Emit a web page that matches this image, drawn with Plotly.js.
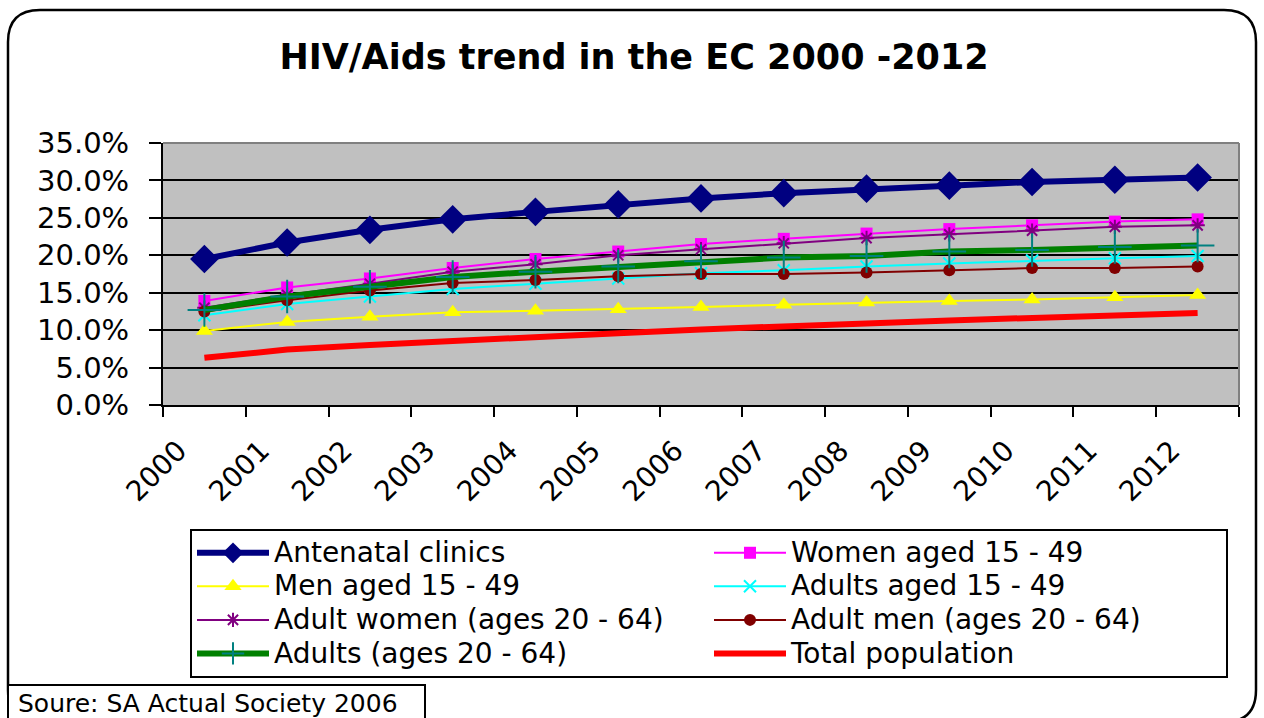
<!DOCTYPE html>
<html>
<head>
<meta charset="utf-8">
<script src="https://cdn.plot.ly/plotly-3.0.1.min.js"></script>
<style>html,body{margin:0;padding:0;background:#fff;}#chart{width:1264px;height:718px;}</style>
</head>
<body>
<div id="chart"></div>
<script>
const years = ["2000","2001","2002","2003","2004","2005","2006","2007","2008","2009","2010","2011","2012"];
const antenatalClinics = [0.195,0.217,0.234,0.248,0.258,0.268,0.276,0.283,0.289,0.293,0.298,0.301,0.304];
const womenAged15to49 = [0.139,0.157,0.169,0.183,0.195,0.205,0.215,0.222,0.229,0.235,0.240,0.245,0.248];
const menAged15to49 = [0.099,0.111,0.118,0.124,0.126,0.128,0.131,0.134,0.137,0.139,0.141,0.144,0.147];
const adultsAged15to49 = [0.120,0.135,0.145,0.155,0.162,0.169,0.176,0.180,0.185,0.189,0.193,0.196,0.199];
const adultWomen20to64 = [0.130,0.147,0.162,0.178,0.188,0.200,0.208,0.216,0.223,0.228,0.233,0.238,0.240];
const adultMen20to64 = [0.125,0.140,0.153,0.163,0.167,0.172,0.175,0.175,0.177,0.180,0.183,0.183,0.185];
const adults20to64 = [0.127,0.145,0.158,0.171,0.178,0.185,0.192,0.197,0.199,0.205,0.207,0.211,0.213];
const totalPopulation = [0.063,0.074,0.080,0.086,0.090,0.096,0.101,0.106,0.109,0.113,0.116,0.119,0.123];
const yTicks = [0,0.05,0.10,0.15,0.20,0.25,0.30,0.35];
const seriesNames = ["Antenatal clinics","Women aged 15 - 49","Men aged 15 - 49","Adults aged 15 - 49",
  "Adult women (ages 20 - 64)","Adult men (ages 20 - 64)","Adults (ages 20 - 64)","Total population"];

const FONT = "DejaVu Sans, Liberation Sans, Arial, sans-serif";
// plot area in pixels
const L = 163, R = 1239, T = 143, B = 405;
const px = v => (v - L) / (R - L);
const py = v => (B - v) / (B - T);
const big = s => `<span style="font-size:28px">${s}</span>`;

const styles = [
  {line:{color:"#000080", width:6}, marker:{symbol:"diamond", size:22, color:"#000080"}},
  {line:{color:"#FF00FF", width:2}, marker:{symbol:"square", size:12, color:"#FF00FF"}},
  {line:{color:"#FFFF00", width:2}, marker:{symbol:"triangle-up", size:15, color:"#FFFF00"}},
  {line:{color:"#00FFFF", width:2}, marker:{symbol:"x-thin-open", size:12, color:"#00FFFF", line:{color:"#00FFFF", width:2}}},
  {line:{color:"#800080", width:2}, marker:{symbol:"asterisk-open", size:12, color:"#800080", line:{color:"#800080", width:2}}},
  {line:{color:"#800000", width:2}, marker:{symbol:"circle", size:12, color:"#800000"}},
  {line:{color:"#008000", width:6}, marker:{symbol:"cross-thin-open", size:24, color:"#008080", line:{color:"#008080", width:2}}},
  {mode:"lines", line:{color:"#FF0000", width:6}}
];
const values = [antenatalClinics, womenAged15to49, menAged15to49, adultsAged15to49,
  adultWomen20to64, adultMen20to64, adults20to64, totalPopulation];

const traces = values.map((v, i) => Object.assign({type:"scatter", mode:"lines+markers", x: years, y: v,
  name: big(seriesNames[i]), hoverinfo:"skip"}, styles[i]));

const layout = {
  width:1264, height:718, autosize:false,
  margin:{l:L, r:1264-R, t:T, b:718-B, pad:0},
  paper_bgcolor:"#ffffff", plot_bgcolor:"#C0C0C0",
  font:{family:FONT, color:"#000", size:28},
  title:{text:"<b>HIV/Aids trend in the EC 2000 -2012</b>", font:{family:FONT, size:35, color:"#000"},
         x:634/1264, xref:"container", xanchor:"center", y:1-57/718, yref:"container", yanchor:"middle"},
  xaxis:{type:"category", categoryorder:"array", categoryarray: years, range:[-0.5, 12.5],
         tickson:"boundaries", ticks:"outside", ticklen:10, tickwidth:2, tickcolor:"#000",
         showline:true, linecolor:"#000", linewidth:2, showgrid:false, zeroline:false,
         tickangle:-45, ticklabelshift:-26, ticklabelstandoff:16,
         tickfont:{family:FONT, size:28, color:"#000"}, automargin:false, fixedrange:true},
  yaxis:{range:[0,0.35], tickvals: yTicks, tickformat:".1%", ticks:"outside", ticklen:12, tickwidth:2, tickcolor:"#000",
         showline:true, linecolor:"#000", linewidth:2, showgrid:true, gridcolor:"#000", gridwidth:2, zeroline:false,
         tickfont:{family:FONT, size:29, color:"#000"}, ticklabelstandoff:14, automargin:false, fixedrange:true},
  showlegend:true,
  legend:{orientation:"h", x:px(190), xanchor:"left", y:py(529), yanchor:"top", xref:"paper", yref:"paper",
          bgcolor:"#fff", bordercolor:"#000", borderwidth:2, font:{family:FONT, size:23.5, color:"#000"},
          entrywidth:430, entrywidthmode:"pixels", itemwidth:72, traceorder:"normal", itemclick:false, itemdoubleclick:false},
  shapes:[
    {type:"line", xref:"paper", yref:"paper", x0:0, x1:1, y0:1, y1:1, line:{color:"#808080", width:2}, layer:"above"},
    {type:"line", xref:"paper", yref:"paper", x0:1, x1:1, y0:0, y1:1, line:{color:"#808080", width:2}, layer:"above"},
    {type:"path", xref:"paper", yref:"paper", line:{color:"#000", width:2.5},
     path:`M ${px(8)},${py(42)} Q ${px(8)},${py(10)} ${px(40)},${py(10)} L ${px(1224)},${py(10)} Q ${px(1256)},${py(10)} ${px(1256)},${py(42)} L ${px(1256)},${py(690)} Q ${px(1256)},${py(722)} ${px(1224)},${py(722)} L ${px(40)},${py(722)} Q ${px(8)},${py(722)} ${px(8)},${py(690)} Z`},
    {type:"rect", xref:"paper", yref:"paper", x0:px(8), x1:px(425), y0:py(685), y1:py(724), line:{color:"#000", width:2}, fillcolor:"#fff"}
  ],
  annotations:[
    {text:"Soure: SA Actual Society 2006", xref:"paper", yref:"paper", x:px(16), y:py(704), xanchor:"left", yanchor:"middle",
     showarrow:false, font:{family:FONT, size:25, color:"#000"}}
  ]
};

Plotly.newPlot("chart", traces, layout, {displayModeBar:false, staticPlot:true});
</script>
</body>
</html>
